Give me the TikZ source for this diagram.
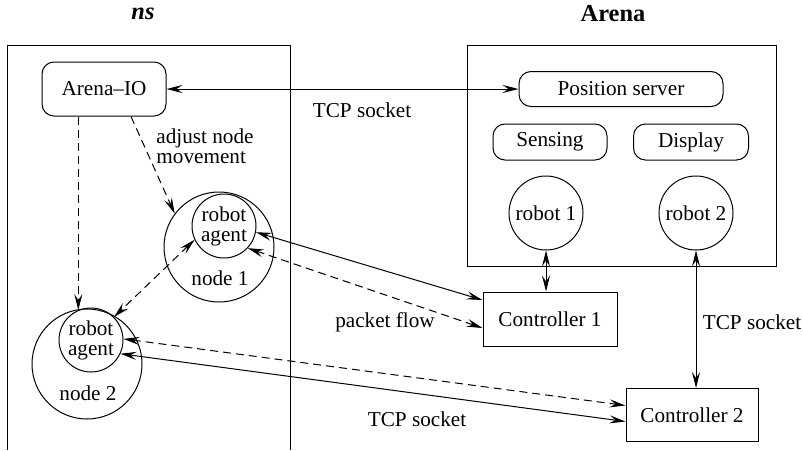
\documentclass[tikz,border=0pt]{standalone}
\usepackage{fontspec}
\setmainfont{LiberationSerif}[Extension=.ttf,UprightFont=*-Regular,BoldFont=*-Bold,ItalicFont=*-Italic,BoldItalicFont=*-BoldItalic]
\usetikzlibrary{arrows.meta}

\begin{document}
\begin{tikzpicture}[x=0.5pt,y=-0.5pt,line width=0.5pt,
  font=\fontsize{10.6}{10}\selectfont,
  >={Stealth[length=8pt,width=4pt,inset=3pt]},
  dsh/.style={dash pattern=on 4pt off 2.5pt},
  rbox/.style={draw,rounded corners=6pt,inner sep=0pt},
  sbox/.style={draw,inner sep=0pt,minimum width=67pt,minimum height=27pt},
  agent/.style={draw,circle,inner sep=0pt,minimum size=32pt,align=center},
  host/.style={draw,circle,inner sep=0pt,minimum size=55pt},
  robot/.style={draw,circle,inner sep=0pt,minimum size=37pt},
  title/.style={font=\fontsize{12.2}{14}\selectfont\bfseries}]
\useasboundingbox (0,0) rectangle (803,450);

% ns side
\node[title] (nsT) at (143,14) {\itshape ns};
\draw (7,450) -- (7,45) -- (290,45) -- (290,450);
\node[rbox,minimum width=62pt,minimum height=27pt] (aio) at (104,89) {Arena--IO};
\node[host] (nd1) at (219,247) {};
\node[agent] (ag1) at (224,226) {robot\\agent};
\node (nd1l) at (220,278) {node 1};
\node[host] (nd2) at (87,364) {};
\node[agent] (ag2) at (91,340) {robot\\agent};
\node (nd2l) at (88,393) {node 2};

% Arena side
\node[title] (arT) at (613,14) {Arena};
\draw (467,45) rectangle (776,266);
\node[rbox,minimum width=102pt,minimum height=17.5pt] (pos) at (621,89) {Position server};
\node[rbox,minimum width=57pt,minimum height=18pt] (sen) at (550,142) {Sensing};
\node[rbox,minimum width=57.5pt,minimum height=18pt] (dis) at (691,142) {Display};
\node[robot] (r1) at (546,213) {robot 1};
\node[robot] (r2) at (696,213) {robot 2};
\node[sbox] (c1) at (550,319) {Controller 1};
\node[sbox,minimum width=66pt,minimum height=26.5pt] (c2) at (692,415) {Controller 2};

% links
\draw[<->] (aio.east) -- (pos.west);
\draw[dsh,->] (ag2.113 |- aio.south) -- (ag2.113);
\draw[dsh,->] ([xshift=13.5pt]aio.south) -- (nd1.143);
\draw[dsh,<->] (ag1.205) -- (ag2.45);
\draw[<->] (ag1.349) -- ([yshift=9.5pt]c1.west);
\draw[dsh,<->] (ag1.317) -- ([yshift=-4.5pt]c1.west);
\draw[dsh,<->] (ag2.2) -- ([yshift=4.75pt]c2.west);
\draw[<->] (ag2.335) -- ([yshift=-3.25pt]c2.west);
\draw[<->] (r1.south) -- (r1.south |- c1.north);
\draw[<->] (r2.south) -- (r2.south |- c2.north);

\node (tcp1) at (362,110) {TCP socket};
\node[align=left] (adj) at (205,146) {adjust node\\movement};
\node (pkt) at (385,322) {packet flow};
\node (tcp2) at (417,419) {TCP socket};
\node (tcp3) at (752,322) {TCP socket};
\end{tikzpicture}
\end{document}
